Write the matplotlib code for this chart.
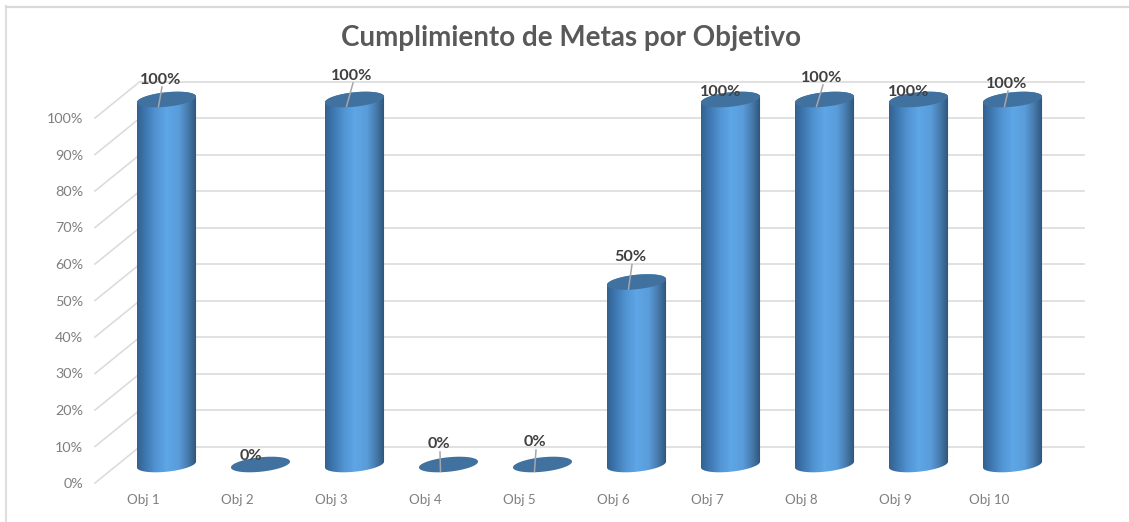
import numpy as np
import matplotlib
matplotlib.use("Agg")
import matplotlib.pyplot as plt
from matplotlib.colors import LinearSegmentedColormap
from matplotlib.patches import Polygon

categories = ["Obj 1", "Obj 2", "Obj 3", "Obj 4", "Obj 5", "Obj 6", "Obj 7", "Obj 8", "Obj 9", "Obj 10"]
values = [100, 0, 100, 0, 0, 50, 100, 100, 100, 100]
y_ticks = list(range(0, 101, 10))
y_labels = [f"{t}%" for t in y_ticks]
# data-label offsets from the top of each cylinder, in pixels (x right, y up)
label_dx = [-6, -10, -3, -10, -8, -6, -10, -3, -10, -6]
label_dy = [20, 9, 24, 20, 22, 25, 8, 22, 8, 16]
has_leader = [True, False, True, True, True, True, False, True, False, True]

W, H = 1129, 522
PX_X, PX_Y = 94.0, 3.65      # pixels per category / per percent
X0, Y0 = 166.5, 464.5        # pixel position of category 0 / value 0

plt.rcParams["font.family"] = ["Lato", "DejaVu Sans"]
fig = plt.figure(figsize=(W / 100, H / 100), dpi=100)
ax = fig.add_axes([0, 0, 1, 1])
ax.axis("off")
xlim = ((0 - X0) / PX_X, (W - X0) / PX_X)
ylim = ((Y0 - H) / PX_Y, (Y0 - 0) / PX_Y)

def dx(p):
    return p / PX_X

def dy(p):
    return p / PX_Y

GRID = "#dcdcdc"
# frame
ax.plot([dx(6 - X0), dx(6 - X0)], [ylim[0], dy(Y0 - 6)], color="#dedede", lw=1.5)
ax.plot([dx(6 - X0), dx(W - X0)], [dy(Y0 - 6.5)] * 2, color="#d9d9d9", lw=1.6)

# back-wall gridlines with the side-wall slant
back_off = dy(18)
front_off = dy(-18.5)
for t, lab in zip(y_ticks, y_labels):
    ax.plot([dx(140 - X0), dx(1084 - X0)], [t + back_off] * 2, color=GRID, lw=1.2, zorder=1)
    ax.plot([dx(95 - X0), dx(140 - X0)], [t + front_off, t + back_off], color=GRID, lw=1.2, zorder=1)
    ax.text(dx(83 - X0), t + front_off - dy(1), lab, ha="right", va="center", fontsize=10.4, color="#7f7f7f")

A, B, TILT = 29.7, 7.2, np.deg2rad(6)
def ell(i, v, t):
    px = A * np.cos(t) * np.cos(TILT) - B * np.sin(t) * np.sin(TILT)
    py = A * np.cos(t) * np.sin(TILT) + B * np.sin(t) * np.cos(TILT)
    return i + dx(px), v + dy(py)

cmap = LinearSegmentedColormap.from_list(
    "cyl", [(0, "#33618f"), (0.12, "#3c74ad"), (0.32, "#5295d3"), (0.5, "#5ea6e6"),
            (0.7, "#5a9cda"), (0.86, "#4679aa"), (1, "#2c5275")])
grad = np.linspace(0, 1, 256).reshape(1, -1)
t_ext = np.arctan2(-B * np.sin(TILT), A * np.cos(TILT))
for i, v in enumerate(values):
    if v > 0:
        t1 = np.linspace(t_ext + np.pi, t_ext + 2 * np.pi, 60)   # lower half, left to right
        t2 = np.linspace(t_ext, t_ext + np.pi, 60)               # upper half, right to left
        xa, ya = ell(i, 0, t1)
        xb, yb = ell(i, v, t2)
        poly = Polygon(np.column_stack([np.r_[xa, xb], np.r_[ya, yb]]), closed=True,
                       transform=ax.transData, fc="none", ec="none")
        ax.add_patch(poly)
        im = ax.imshow(grad, cmap=cmap, aspect="auto", zorder=3, interpolation="bilinear",
                       extent=(i - dx(A), i + dx(A), -dy(10), v + dy(10)))
        im.set_clip_path(poly)
    t = np.linspace(0, 2 * np.pi, 120)
    xe, ye = ell(i, v, t)
    ax.fill(xe, ye, color="#41719f", zorder=4, lw=0)
    lx, ly = i + dx(label_dx[i]), v + dy(label_dy[i])
    if has_leader[i]:
        ax.plot([lx + dx(1.5), i + dx(-8)], [ly - dy(7.5), v - dy(7)],
                color="#a6a6a6", lw=1.1, zorder=5)
    ax.text(lx, ly, f"{v}%", ha="center", va="center", fontsize=11.6, fontweight="bold",
            color="#404040", zorder=6)

for i, c in enumerate(categories):
    ax.text(i - dx(23.5), dy(Y0 - 500.5), c, ha="center", va="center", fontsize=9.6, color="#7f7f7f")

ax.text(dx(571 - X0), dy(Y0 - 38), "Cumplimiento de Metas por Objetivo", ha="center", va="center",
        fontsize=20, fontweight="bold", color="#595959")

ax.set_xlim(xlim)
ax.set_ylim(ylim)
fig.savefig("out.png", dpi=100)
